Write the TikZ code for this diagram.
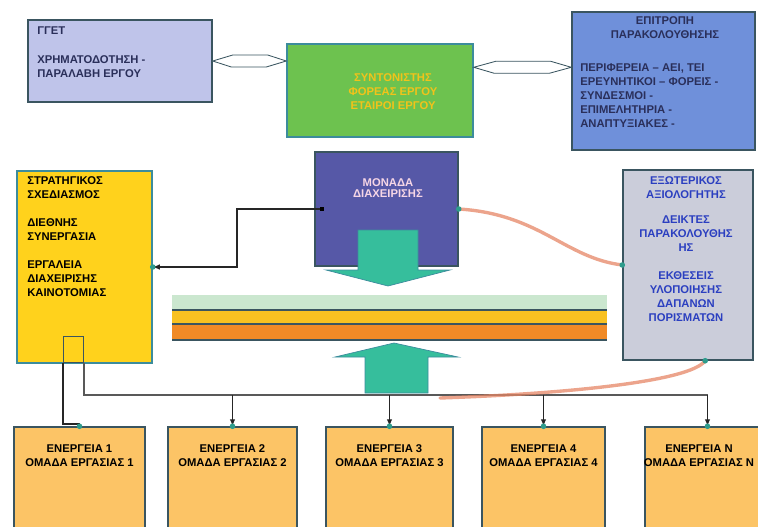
\documentclass[tikz,border=0pt]{standalone}
\usepackage{fontspec}
\setmainfont{Liberation Sans}
\usetikzlibrary{positioning,arrows.meta}

\definecolor{lavbox}{HTML}{BFC4EA}
\definecolor{grnbox}{HTML}{6DC24F}
\definecolor{bluebox}{HTML}{6F90DA}
\definecolor{unitbox}{HTML}{5658A7}
\definecolor{yelbox}{HTML}{FFD21C}
\definecolor{greybox}{HTML}{CBCDDA}
\definecolor{orgbox}{HTML}{FCC466}
\definecolor{arrowgrn}{HTML}{36BE9C}
\definecolor{mintband}{HTML}{CBE7CF}
\definecolor{yelband}{HTML}{F8C121}
\definecolor{orgband}{HTML}{F18A26}
\definecolor{edge}{HTML}{3A5560}
\definecolor{tealedge}{HTML}{3C8C9C}
\definecolor{dotc}{HTML}{2E9C8C}
\definecolor{salmon}{HTML}{E58665}
\definecolor{navytxt}{HTML}{2A2F5A}
\definecolor{goldtxt}{HTML}{F2C31A}
\definecolor{pinktxt}{HTML}{F6D6E6}
\definecolor{bluetxt}{HTML}{2B3FC0}

\begin{document}
\begin{tikzpicture}[x=0.025cm,y=-0.025cm,
  box/.style={draw=edge,line width=1pt,inner sep=0pt},
  txt/.style={font=\fontsize{8}{10}\selectfont\bfseries,inner sep=0pt},
  dot/.style={circle,fill=dotc,inner sep=0pt,minimum size=4pt},
  wire/.style={draw=black!85,line width=0.9pt},
  bus/.style={draw=black!65,line width=1.8pt},
  glow/.style={draw=salmon,line width=2.4pt,opacity=.75,line cap=round},
  dblarr/.style={draw=edge,line width=.6pt,fill=white},
  tip/.style={-{Latex[length=5pt,width=4pt]}}]

\useasboundingbox (0,0) rectangle (758,527);

% top row
\node[box,fill=lavbox,minimum width=4.6cm,minimum height=2.05cm] (ggt) at (120,61) {};
\node[txt,text=navytxt,anchor=north west,align=left] (ggtTxt) at (37,26)
  {ΓΓΕΤ\\[11pt]ΧΡΗΜΑΤΟΔΟΤΗΣΗ -\\ΠΑΡΑΛΑΒΗ ΕΡΓΟΥ};

\node[box,fill=grnbox,draw=tealedge,minimum width=4.65cm,minimum height=2.325cm] (coord) at (380,90.5) {};
\node[txt,text=goldtxt,anchor=north,align=center] (coordTxt) at (393,73)
  {ΣΥΝΤΟΝΙΣΤΗΣ\\ΦΟΡΕΑΣ ΕΡΓΟΥ\\ΕΤΑΙΡΟΙ ΕΡΓΟΥ};

\node[box,fill=bluebox,minimum width=4.575cm,minimum height=3.45cm] (epit) at (663.5,81) {};
\node[txt,text=navytxt,anchor=north,align=center] (epitHead) at (665,16)
  {ΕΠΙΤΡΟΠΗ\\ΠΑΡΑΚΟΛΟΥΘΗΣΗΣ};
\node[txt,text=navytxt,anchor=north west,align=left] (epitTxt) at (580,63)
  {ΠΕΡΙΦΕΡΕΙΑ – ΑΕΙ, ΤΕΙ\\ΕΡΕΥΝΗΤΙΚΟΙ – ΦΟΡΕΙΣ -\\ΣΥΝΔΕΣΜΟΙ -\\ΕΠΙΜΕΛΗΤΗΡΙΑ -\\ΑΝΑΠΤΥΞΙΑΚΕΣ -};

% links between top boxes
\draw[dblarr] (ggt.east) -- ++(20,-6) -- ++(35,0) -- (coord.west |- ggt.east)
  -- ++(-20,6) -- ++(-35,0) -- cycle;
\coordinate (lkA) at ([yshift=-0.6cm]coord.north east);
\draw[dblarr] (lkA) -- ++(22,-6) -- ++(55,0) -- (lkA -| epit.west)
  -- ++(-22,6) -- ++(-55,0) -- cycle;

% middle row
\node[box,fill=yelbox,draw=tealedge,minimum width=3.375cm,minimum height=4.8cm] (strat) at (84.5,267) {};
\node[txt,anchor=north west,align=left] (stratTxt) at (27,176)
  {ΣΤΡΑΤΗΓΙΚΟΣ\\ΣΧΕΔΙΑΣΜΟΣ\\[10pt]ΔΙΕΘΝΗΣ\\ΣΥΝΕΡΓΑΣΙΑ\\[10pt]ΕΡΓΑΛΕΙΑ\\ΔΙΑΧΕΙΡΙΣΗΣ\\ΚΑΙΝΟΤΟΜΙΑΣ};
\node[draw=edge,line width=.6pt,inner sep=0pt,minimum width=0.5cm,minimum height=0.65cm,
  anchor=south west] (tab) at (63,363) {};

\node[box,fill=unitbox,minimum width=3.575cm,minimum height=2.85cm] (unit) at (386.5,209) {};
\node[txt,text=pinktxt,anchor=north,align=center] (unitTxt) at (388,178)
  {ΜΟΝΑΔΑ\\[-2pt]ΔΙΑΧΕΙΡΙΣΗΣ};
\node[fill=black,inner sep=0pt,minimum size=3pt] (uport) at ([xshift=0.2cm]unit.west) {};

\node[box,fill=greybox,minimum width=3.25cm,minimum height=4.75cm] (eval) at (688,265) {};
\node[txt,text=bluetxt,anchor=north,align=center] (evalTxt) at (686,176)
  {ΕΞΩΤΕΡΙΚΟΣ\\ΑΞΙΟΛΟΓΗΤΗΣ\\[8pt]ΔΕΙΚΤΕΣ\\ΠΑΡΑΚΟΛΟΥΘΗΣ\\ΗΣ\\[10pt]ΕΚΘΕΣΕΙΣ\\ΥΛΟΠΟΙΗΣΗΣ\\ΔΑΠΑΝΩΝ\\ΠΟΡΙΣΜΑΤΩΝ};

% arrows and bands
\draw[fill=arrowgrn,draw=tealedge,line width=.5pt] (358,230) -- (418,230) -- (418,270) -- (450,270)
  -- (388,286) -- (326,270) -- (358,270) -- cycle;
\fill[mintband] (172,295) rectangle (607,310);
\fill[yelband] (172,310) rectangle (607,324);
\fill[orgband] (172,324) rectangle (607,340);
\foreach \y in {310,324,340}
  \draw[edge,line width=.8pt] (172,\y) -- (607,\y);
\draw[fill=arrowgrn,draw=tealedge,line width=.5pt] (365,393) -- (365,357) -- (335,357) -- (394,343)
  -- (458,357) -- (428,357) -- (428,393) -- cycle;

% bottom row
\foreach \n/\cx/\w/\tx [count=\i] in {1/79.5/3.275/79.5,2/232.5/3.225/232.5,3/389.5/3.175/389.5,
    4/543.5/3.075/543.5,Ν/707.5/3.125/699}{
  \node[box,fill=orgbox,minimum width=\w cm,minimum height=2.575cm] (e\i) at (\cx,478.5) {};
  \node[txt,anchor=north,align=center] (et\i) at (\tx,444) {ΕΝΕΡΓΕΙΑ \n\\ΟΜΑΔΑ ΕΡΓΑΣΙΑΣ \n};
}

% connectors
\draw[wire,tip] (uport) -- (237,209) |- (strat.east);
\coordinate (busL) at (tab.south east |- 0,395);
\draw[bus] (tab.south east) -- (busL) -- (busL -| e5.north);
\draw[wire] (tab.south west) -- ++(0,61) -| (e1.north);
\foreach \i in {2,3,4,5}
  \draw[wire,tip] (busL -| e\i.north) -- (e\i.north);
\coordinate (evalS) at ([xshift=0.43cm]eval.south);
\coordinate (glowEnd) at (440,398);
\draw[glow] (unit.east) .. controls (540,214) and (565,258) .. (eval.west);
\draw[glow] (evalS) .. controls (690,382) and (560,394) .. (glowEnd);

% ports
\foreach \p in {strat.east,unit.east,eval.west,evalS,e1.north,e2.north,e3.north,e4.north,e5.north}
  \node[dot] at (\p) {};
\end{tikzpicture}
\end{document}
